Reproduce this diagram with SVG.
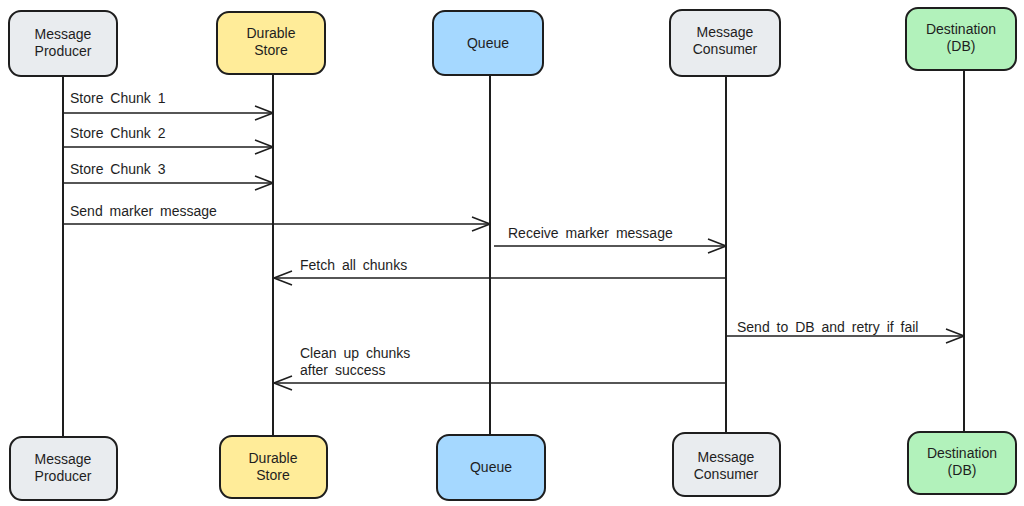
<svg xmlns="http://www.w3.org/2000/svg" width="1024" height="506" viewBox="0 0 1024 506">
<style>
.box{stroke:#1e1e1e;stroke-width:2;}
.gray{fill:#e9ecef}.yellow{fill:#ffec99}.blue{fill:#a5d8ff}.green{fill:#b2f2bb}
.t{font-family:"Liberation Sans",Arial,sans-serif;font-size:14px;fill:#1e1e1e;text-anchor:middle}
.l{font-family:"Liberation Sans",Arial,sans-serif;font-size:14px;word-spacing:3px;fill:#1e1e1e}
.life{stroke:#1e1e1e;stroke-width:2;fill:none}
.msg{stroke:#1e1e1e;stroke-width:1.5;fill:none;marker-end:url(#ah)}
</style>
<defs>
<marker id="ah" viewBox="0 0 20 20" refX="19" refY="10" markerWidth="20" markerHeight="20" markerUnits="userSpaceOnUse" orient="auto">
<path d="M1,3 L19,10 L1,17" fill="none" stroke="#1e1e1e" stroke-width="1.5"/>
</marker>
</defs>
<rect width="1024" height="506" fill="#ffffff"/>
<g id="lifelines">
<line class="life" x1="63" y1="76" x2="63" y2="437"/>
<line class="life" x1="273" y1="74" x2="273" y2="436"/>
<line class="life" x1="490" y1="75" x2="490" y2="435"/>
<line class="life" x1="726" y1="76" x2="726" y2="433"/>
<line class="life" x1="964" y1="70" x2="964" y2="432"/>
</g>
<g id="producer-top"><rect class="box gray" x="9" y="11" width="108" height="65" rx="12"/><text class="t" x="63" y="39">Message</text><text class="t" x="63" y="56">Producer</text></g>
<g id="store-top"><rect class="box yellow" x="217" y="12" width="108" height="62" rx="12"/><text class="t" x="271" y="38">Durable</text><text class="t" x="271" y="55">Store</text></g>
<g id="queue-top"><rect class="box blue" x="433" y="11" width="110" height="64" rx="12"/><text class="t" x="488" y="48">Queue</text></g>
<g id="consumer-top"><rect class="box gray" x="670" y="10" width="110" height="66" rx="12"/><text class="t" x="725" y="37">Message</text><text class="t" x="725" y="54">Consumer</text></g>
<g id="dest-top"><rect class="box green" x="906" y="8" width="110" height="62" rx="12"/><text class="t" x="961" y="34">Destination</text><text class="t" x="961" y="51">(DB)</text></g>
<g id="producer-bottom"><rect class="box gray" x="10" y="437" width="107" height="63" rx="12"/><text class="t" x="63" y="464">Message</text><text class="t" x="63" y="481">Producer</text></g>
<g id="store-bottom"><rect class="box yellow" x="220" y="436" width="107" height="62" rx="12"/><text class="t" x="273" y="463">Durable</text><text class="t" x="273" y="480">Store</text></g>
<g id="queue-bottom"><rect class="box blue" x="437" y="435" width="108" height="65" rx="12"/><text class="t" x="491" y="472">Queue</text></g>
<g id="consumer-bottom"><rect class="box gray" x="673" y="433" width="107" height="63" rx="12"/><text class="t" x="726" y="462">Message</text><text class="t" x="726" y="479">Consumer</text></g>
<g id="dest-bottom"><rect class="box green" x="908" y="432" width="108" height="62" rx="12"/><text class="t" x="962" y="458">Destination</text><text class="t" x="962" y="475">(DB)</text></g>
<g id="connectors">
<line class="msg" x1="64" y1="113" x2="273" y2="113"/>
<line class="msg" x1="64" y1="147" x2="273" y2="147"/>
<line class="msg" x1="64" y1="183" x2="273" y2="183"/>
<line class="msg" x1="64" y1="224" x2="490" y2="224"/>
<line class="msg" x1="494" y1="246" x2="726" y2="246"/>
<line class="msg" x1="726" y1="278" x2="274" y2="278"/>
<line class="msg" x1="726" y1="336" x2="964" y2="336"/>
<line class="msg" x1="726" y1="383" x2="274" y2="383"/>
</g>
<g id="labels">
<text class="l" x="70" y="103">Store Chunk 1</text>
<text class="l" x="70" y="138">Store Chunk 2</text>
<text class="l" x="70" y="174">Store Chunk 3</text>
<text class="l" x="70" y="216">Send marker message</text>
<text class="l" x="508" y="238">Receive marker message</text>
<text class="l" x="300" y="270">Fetch all chunks</text>
<text class="l" x="737" y="332">Send to DB and retry if fail</text>
<text class="l" x="300" y="358">Clean up chunks</text>
<text class="l" x="300" y="375">after success</text>
</g>
</svg>
